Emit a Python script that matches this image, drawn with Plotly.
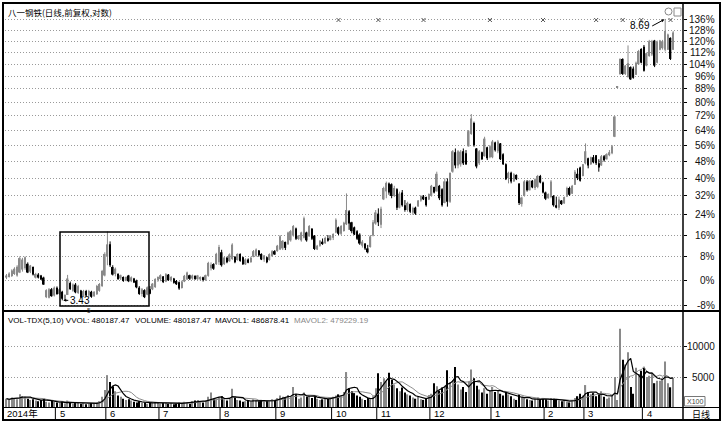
import numpy as np
import pandas as pd
import plotly.graph_objects as go

TITLE = "八一钢铁(日线,前复权,对数)"
MONTH_LABELS = ["2014年", "5", "6", "7", "8", "9", "10", "11", "12", "1", "2", "3", "4"]
MONTH_START = [0, 19, 38, 58, 81, 102, 123, 140, 160, 183, 203, 218, 240]
PCT_TICKS = [136, 128, 120, 112, 104, 96, 88, 80, 72, 64, 56, 48, 40, 32, 24, 16, 8, 0, -8]
VOL_TICKS = [5000, 10000]
INFO_IDX = [125, 140, 157, 182, 202, 222, 232, 239, 250]
LOW_LABEL = "3.43"
HIGH_LABEL = "8.69"
VOL_HEADER = ["VOL-TDX(5,10) VVOL: 480187.47", "VOLUME: 480187.47",
              "MAVOL1: 486878.41", "MAVOL2: 479229.19"]

# daily prices, % change against the log-axis base
open_pct = [
    0.8, 1.0, 1.3, 2.0, 1.5, 2.5, 3.5, 4.0, 5.5, 2.8,
    4.4, 0.8, 1.8, 1.5, 0.8, -5.5, -5.7, -3.0, -5.0, -2.5,
    -4.5, -3.8, -6.2, -4.8, -1.0, -3.5, -1.5, -4.2, -3.4, -5.3,
    -3.6, -5.0, -3.8, -5.2, -4.6, -3.5, -2.0, 1.5, 8.0, 12.5,
    4.4, 2.0, 2.0, 0.5, 1.0, -0.2, 1.5, -0.4, 0.5, -0.2,
    -2.5, -4.5, -3.3, -4.7, -3.0, -3.0, -2.3, 0.0, 0.3, 1.2,
    -0.5, 1.8, 0.0, 0.5, -0.3, -0.7, -2.6, -0.5, 0.2, 1.6,
    0.5, 1.4, 0.3, 0.2, 0.9, 0.0, 1.4, 4.0, 5.4, 5.4,
    6.0, 9.6, 5.4, 7.6, 6.4, 7.2, 8.0, 6.8, 9.0, 7.8,
    5.3, 7.0, 6.0, 8.0, 8.3, 10.2, 9.0, 7.0, 7.8, 6.8,
    8.2, 10.0, 10.0, 10.6, 11.0, 13.4, 12.5, 14.0, 15.8, 18.5,
    14.5, 14.0, 15.0, 17.0, 15.5, 18.4, 15.8, 10.6, 12.0, 13.5,
    12.9, 14.8, 14.1, 15.0, 17.0, 19.0, 16.5, 17.6, 20.2, 25.5,
    21.0, 19.0, 17.5, 16.2, 12.0, 12.8, 11.0, 11.5, 15.8, 20.5,
    24.5, 20.0, 30.5, 34.0, 37.5, 37.2, 32.0, 35.0, 27.0, 33.5,
    28.0, 26.0, 28.5, 25.0, 27.0, 27.5, 30.0, 31.8, 31.5, 30.5,
    32.0, 36.0, 34.0, 36.5, 35.0, 29.0, 38.5, 29.5, 43.0, 52.5,
    46.0, 46.5, 53.0, 52.0, 55.5, 62.0, 68.0, 54.4, 47.0, 52.5,
    50.5, 55.0, 50.0, 50.0, 57.5, 53.0, 57.0, 51.5, 46.5, 40.0,
    42.5, 38.5, 41.5, 37.5, 28.5, 32.0, 38.5, 34.5, 38.8, 35.5,
    36.0, 41.0, 38.0, 33.5, 31.0, 31.5, 32.0, 28.0, 27.0, 30.0,
    28.8, 31.7, 35.5, 33.0, 37.0, 42.0, 45.0, 41.0, 47.0, 49.5,
    46.5, 50.0, 51.0, 47.0, 46.0, 50.5, 49.0, 51.0, 52.0, 60.5,
    88.8, 97.5, 107.5, 97.5, 95.5, 102.0, 101.0, 97.0, 104.0, 114.5,
    116.0, 103.0, 109.5, 110.5, 120.5, 105.0, 114.0, 115.0, 114.0, 114.0, 122.5, 114.0,
]
high_pct = [
    2.0, 2.6, 3.6, 4.3, 5.0, 8.1, 7.6, 8.1, 6.0, 5.1,
    4.6, 2.4, 2.3, 1.7, 1.1, -3.0, -2.6, -2.6, -2.1, -2.1,
    -2.6, -3.5, -4.6, 1.7, -0.5, -1.1, -1.0, -1.6, -3.2, -3.2,
    -3.2, -3.2, -3.5, -3.6, -1.6, -1.0, 3.4, 9.6, 17.4, 13.6,
    5.0, 4.2, 2.3, 1.8, 1.2, 1.2, 1.7, 1.2, 0.7, 0.1,
    -2.0, -2.6, -3.0, -2.1, -2.0, -1.0, 0.6, 1.2, 1.9, 1.3,
    2.3, 2.0, 1.3, 0.7, 0.0, -0.5, -0.2, 1.7, 2.8, 1.8,
    1.8, 1.5, 1.7, 1.2, 1.1, 1.8, 6.2, 6.0, 5.7, 9.4,
    12.3, 10.5, 8.0, 8.0, 9.2, 12.9, 8.2, 9.2, 9.2, 8.0,
    7.4, 7.4, 8.0, 10.4, 11.0, 10.4, 9.2, 8.6, 8.0, 9.2,
    10.4, 10.4, 12.3, 16.0, 14.1, 13.5, 17.3, 18.0, 19.9, 18.9,
    16.0, 17.3, 23.3, 17.3, 19.9, 18.7, 16.0, 12.3, 14.1, 14.7,
    15.4, 16.0, 16.0, 16.7, 22.6, 19.3, 19.9, 21.2, 33.1, 26.0,
    21.2, 19.3, 17.9, 16.7, 14.1, 12.9, 12.3, 16.0, 21.9, 26.0,
    26.7, 27.4, 36.1, 38.4, 38.0, 37.6, 36.5, 35.4, 33.9, 34.6,
    30.2, 29.5, 28.8, 27.4, 27.4, 30.2, 32.4, 32.4, 31.7, 33.1,
    36.9, 36.1, 43.0, 36.9, 35.4, 39.9, 39.9, 42.5, 53.6, 54.4,
    53.6, 53.6, 54.4, 53.6, 64.1, 73.0, 68.7, 54.6, 53.6, 52.8,
    60.5, 55.3, 56.2, 58.8, 57.9, 58.8, 57.2, 52.0, 47.0, 43.0,
    43.0, 42.3, 41.7, 37.6, 31.7, 39.1, 39.1, 39.1, 39.1, 39.9,
    41.5, 41.5, 38.4, 33.9, 33.1, 39.1, 32.4, 31.7, 31.7, 30.2,
    31.7, 36.1, 36.1, 36.9, 43.8, 44.6, 45.4, 46.7, 57.0, 49.8,
    50.3, 51.1, 51.1, 49.0, 51.1, 51.1, 52.0, 53.6, 56.2, 71.9,
    89.0, 107.7, 108.0, 103.4, 117.0, 102.5, 102.4, 105.7, 113.8, 115.0,
    117.3, 112.0, 121.0, 121.0, 121.0, 120.5, 121.0, 121.0, 136.8, 125.6, 122.8, 127.5,
]
low_pct = [
    0.3, 0.8, 1.0, 1.7, 1.1, 2.3, 2.8, 3.4, 2.3, 2.3,
    1.5, 0.5, 0.5, 0.0, -1.6, -5.8, -5.9, -5.4, -5.3, -4.8,
    -4.8, -6.5, -6.4, -4.8, -3.2, -3.8, -4.3, -4.5, -5.8, -5.5,
    -5.4, -5.6, -5.7, -5.4, -4.8, -3.8, -2.3, 1.2, 5.0, 4.4,
    1.5, 1.2, 0.0, 0.0, -0.6, -0.4, -0.7, -0.7, -1.0, -2.7,
    -4.8, -5.3, -5.8, -4.9, -4.6, -3.3, -2.6, -0.6, -0.4, -1.0,
    -0.7, -0.3, -0.6, -1.2, -1.6, -3.2, -2.8, -0.7, 0.0, 0.0,
    0.1, 0.0, 0.0, -0.3, -0.5, -0.3, 1.1, 3.2, 3.4, 5.1,
    5.1, 4.5, 5.1, 5.7, 6.2, 6.8, 5.7, 6.6, 6.2, 5.1,
    5.1, 5.7, 5.9, 7.8, 8.0, 8.0, 6.8, 6.2, 5.7, 6.6,
    8.0, 8.6, 9.8, 10.4, 10.4, 10.4, 12.3, 13.5, 15.4, 14.1,
    14.1, 13.5, 14.7, 13.5, 15.4, 14.1, 10.4, 10.4, 11.6, 12.3,
    12.7, 13.5, 14.0, 14.1, 16.7, 16.0, 16.0, 17.3, 19.9, 18.0,
    16.7, 16.0, 14.1, 12.3, 11.3, 10.4, 9.2, 11.3, 15.5, 20.0,
    19.5, 18.7, 30.2, 31.0, 32.5, 31.0, 31.5, 26.0, 26.7, 27.4,
    25.3, 25.3, 24.7, 24.0, 24.0, 27.4, 29.5, 30.2, 27.4, 30.2,
    31.7, 33.1, 33.9, 30.2, 27.4, 28.8, 27.4, 29.0, 42.5, 44.6,
    44.6, 45.4, 46.2, 46.2, 55.3, 61.5, 55.3, 44.6, 46.2, 48.6,
    50.3, 48.6, 49.5, 49.5, 52.8, 52.0, 48.6, 46.2, 39.1, 37.6,
    37.6, 38.4, 39.1, 28.1, 27.4, 31.7, 33.9, 34.4, 35.4, 34.6,
    35.4, 37.6, 33.1, 30.2, 30.8, 31.0, 27.4, 26.7, 26.0, 28.1,
    28.6, 31.5, 32.0, 32.8, 36.9, 39.1, 38.4, 40.8, 46.5, 44.6,
    46.2, 47.0, 46.2, 43.0, 45.8, 47.8, 48.8, 50.5, 51.5, 60.3,
    88.6, 96.8, 96.8, 96.8, 95.0, 93.6, 94.4, 96.8, 103.4, 104.5,
    99.0, 102.5, 109.0, 109.5, 102.0, 104.5, 113.5, 114.0, 112.7, 113.8, 106.8, 113.8,
]
close_pct = [
    1.5, 2.2, 3.2, 3.8, 4.5, 7.5, 7.0, 7.8, 2.5, 4.9,
    1.8, 2.0, 0.8, 0.2, -1.5, -3.3, -3.0, -5.2, -2.5, -4.5,
    -3.0, -6.0, -4.8, 0.5, -3.0, -1.5, -4.0, -2.0, -5.5, -3.6,
    -5.0, -3.6, -5.4, -3.8, -2.0, -1.3, 3.0, 9.0, 12.5, 5.0,
    1.8, 3.8, 0.3, 1.6, -0.3, 1.0, -0.4, 0.9, -0.8, -2.4,
    -4.5, -3.0, -5.5, -2.4, -4.4, -1.2, 0.3, 1.0, 1.6, -0.7,
    1.9, 0.0, 1.0, -0.9, -1.4, -2.8, -0.5, 1.4, 2.5, 0.4,
    1.5, 0.3, 1.5, 1.0, 0.0, 1.6, 5.8, 5.2, 3.8, 9.0,
    11.5, 5.0, 7.7, 6.0, 8.8, 12.4, 6.0, 9.0, 6.5, 5.3,
    7.0, 5.9, 7.6, 10.0, 10.6, 8.5, 7.0, 8.4, 6.0, 8.9,
    10.0, 8.8, 12.0, 15.5, 13.8, 11.2, 17.0, 17.5, 19.5, 14.6,
    15.8, 17.0, 22.6, 14.0, 19.5, 14.6, 10.8, 12.0, 13.8, 12.6,
    14.9, 13.8, 15.6, 16.4, 22.0, 16.5, 19.5, 20.8, 26.0, 20.5,
    17.5, 16.2, 14.6, 12.8, 13.5, 11.0, 9.6, 15.5, 21.0, 25.0,
    21.0, 26.5, 35.5, 37.8, 33.5, 32.0, 35.5, 27.0, 33.0, 28.0,
    26.0, 29.0, 25.3, 26.8, 24.5, 30.0, 32.0, 30.5, 28.0, 32.8,
    36.5, 33.5, 42.0, 31.0, 28.0, 38.5, 29.5, 42.5, 53.0, 46.0,
    53.0, 52.8, 47.0, 46.5, 63.5, 70.5, 56.0, 45.5, 53.0, 49.0,
    59.5, 49.5, 55.5, 58.0, 53.5, 58.0, 49.0, 46.5, 39.5, 42.5,
    38.5, 41.8, 39.5, 29.0, 31.3, 38.5, 34.5, 38.8, 35.8, 39.5,
    41.0, 38.0, 33.5, 30.8, 32.8, 38.5, 28.0, 27.0, 30.5, 28.5,
    31.5, 35.5, 32.5, 36.5, 43.0, 40.0, 38.8, 46.5, 53.0, 46.0,
    50.0, 47.5, 47.0, 45.0, 50.5, 48.5, 51.5, 52.5, 55.5, 71.6,
    88.8, 107.7, 97.5, 103.0, 104.5, 94.0, 95.0, 105.0, 113.0, 105.0,
    99.5, 111.5, 120.0, 120.0, 103.0, 119.5, 120.5, 120.0, 127.5, 125.0, 107.5, 126.5,
]
# daily volume, x100
volume = [
    1500, 1300, 1700, 1600, 1400, 2200, 1900, 1800, 1500, 1300,
    1400, 1200, 1100, 1300, 1500, 1000, 900, 1200, 1000,
    900, 800, 1000, 700, 1200, 800, 700, 800, 900, 700, 800, 600, 700, 800, 700, 900, 1100, 1800, 2900,
    5300, 4200, 3500, 2700, 2000, 1800, 1500, 1300, 1400, 1200, 1000, 900, 1100, 800, 900, 700, 800, 1000, 900, 800,
    700, 800, 900, 700, 800, 600, 700, 900, 800, 1000, 900, 700, 1100, 1200, 1300, 1000, 900, 1200, 1800, 2500, 1500, 1300, 1700,
    1900, 1400, 1200, 1500, 3100, 1800, 1300, 1200, 1000, 1100, 1300, 1000, 1400, 1200, 1100, 1300, 1000, 1200, 1100, 1400, 1300,
    1600, 2000, 1800, 1700, 2100, 1900, 3400, 2200, 1500, 1700, 2500, 1800, 2000, 1600, 1900, 1500, 1300, 1400, 1600, 1500, 1700,
    1800, 2000, 2200, 1900, 2600, 5800, 3200, 2700, 2400, 2000, 1800, 1500, 1300, 1600, 1400, 1900, 3200,
    5600, 4200, 4800, 4300, 5700, 4500, 3800, 3200, 2700, 3300, 2500, 2200, 2000, 1700, 1500, 1800, 1400, 1300, 1600, 2100,
    2300, 4000, 3500, 2800, 3300, 3600, 6100, 4200, 4500, 6600, 3800, 3000, 3400, 2600, 4300, 6200, 4800, 3600, 3000, 2500, 3200, 2300, 2800,
    3400, 2600, 2900, 2300, 2000, 2700, 2200, 1900, 1500, 1300, 2200, 1800, 1600, 1400, 1300, 1200, 1500, 1700, 1300, 1500,
    1400, 1200, 1600, 1500, 1300, 1200, 1100, 1300, 1000, 900, 1100, 1600, 1900, 2300, 2000,
    3700, 2600, 2200, 2400, 1900, 2100, 2700, 1800, 1500, 1700, 2000, 5000, 1300, 12800, 7800, 7000, 9000, 3400, 2300, 6500, 5500, 6000,
    6500, 5000, 5200, 5600, 4000, 4379, 4400, 4700, 7500, 4000, 3342, 4802,
]

n = len(close_pct)
assert len(open_pct) == n and len(high_pct) == n and len(low_pct) == n and len(volume) == n

W, H = 724, 423
def px(x):
    return x / W
def py(y):
    return 1 - y / H

UP_COL = "#8a8a8a"
DN_COL = "#000000"

idx = np.arange(n)
o = 1 + np.array(open_pct) / 100
h = 1 + np.array(high_pct) / 100
l = 1 + np.array(low_pct) / 100
c = 1 + np.array(close_pct) / 100
up = c >= o
vol = np.array(volume, dtype=float)
ma5 = pd.Series(vol).rolling(5, min_periods=1).mean()
ma10 = pd.Series(vol).rolling(10, min_periods=1).mean()

fig = go.Figure()

# wicks
for mask, col in [(up, UP_COL), (~up, DN_COL)]:
    xs, ys = [], []
    for i in idx[mask]:
        xs += [int(i), int(i), None]
        ys += [l[i], h[i], None]
    fig.add_trace(go.Scatter(x=xs, y=ys, mode="lines", line=dict(color=col, width=1),
                             hoverinfo="skip", showlegend=False, xaxis="x", yaxis="y"))

# bodies
body_lo = np.minimum(o, c)
body_hi = np.maximum(o, c)
body_len = np.maximum(body_hi - body_lo, body_lo * 0.004)
fig.add_trace(go.Bar(x=idx, y=body_len, base=body_lo, width=0.6,
                     marker=dict(color=[UP_COL if u else DN_COL for u in up], line=dict(width=0)),
                     hoverinfo="skip", showlegend=False, xaxis="x", yaxis="y"))

# information markers
fig.add_trace(go.Scatter(x=INFO_IDX, y=[1 + PCT_TICKS[0] / 100] * len(INFO_IDX), mode="markers",
                         marker=dict(symbol="x-thin", size=4, line=dict(width=1, color="#555")),
                         hoverinfo="skip", showlegend=False, xaxis="x", yaxis="y"))

# volume
fig.add_trace(go.Bar(x=idx, y=vol, width=0.45,
                     marker=dict(color=[UP_COL if u else DN_COL for u in up], line=dict(width=0)),
                     hoverinfo="skip", showlegend=False, xaxis="x2", yaxis="y2"))
fig.add_trace(go.Scatter(x=idx, y=ma10, mode="lines", line=dict(color="#8c8c8c", width=1),
                         hoverinfo="skip", showlegend=False, xaxis="x2", yaxis="y2"))
fig.add_trace(go.Scatter(x=idx, y=ma5, mode="lines", line=dict(color="#000", width=1.2),
                         hoverinfo="skip", showlegend=False, xaxis="x2", yaxis="y2"))

XR = [-0.565, 254.7]
FONT = "Liberation Sans, Arial, Noto Sans CJK SC"
CJK = "Noto Sans CJK SC, Liberation Sans"

ann = []
ann.append(dict(xref="paper", yref="paper", x=px(6), y=py(12), text=TITLE, showarrow=False,
                xanchor="left", yanchor="middle", font=dict(family=CJK, size=8.5, color="#000")))
for p in PCT_TICKS:
    ann.append(dict(xref="paper", yref="y", x=px(717), y=float(np.log10(1 + p / 100)), text=f"{p}%",
                    showarrow=False, xanchor="right", yanchor="middle",
                    font=dict(family=FONT, size=10, color="#111")))
for v in VOL_TICKS:
    ann.append(dict(xref="paper", yref="y2", x=px(717), y=v, text=str(v), showarrow=False,
                    xanchor="right", yanchor="middle", font=dict(family=FONT, size=10, color="#111")))
hdr_x = [6, 133, 213, 292]
for k, (t, xx) in enumerate(zip(VOL_HEADER, hdr_x)):
    ann.append(dict(xref="paper", yref="paper", x=px(xx), y=py(320), text=t, showarrow=False,
                    xanchor="left", yanchor="middle",
                    font=dict(family=FONT, size=8, color="#888" if k == 3 else "#000")))
for k, (lab, m) in enumerate(zip(MONTH_LABELS, MONTH_START)):
    ann.append(dict(xref="x", yref="paper", x=(m - 0.4) if k == 0 else (m + 0.3), y=py(413.5),
                    text=lab, showarrow=False, xanchor="left", yanchor="middle",
                    font=dict(family=FONT, size=9.5, color="#000")))
ann.append(dict(xref="paper", yref="paper", x=px(701), y=py(414), text="日线", showarrow=False,
                xanchor="center", yanchor="middle", font=dict(family=CJK, size=9, color="#000")))
ann.append(dict(xref="paper", yref="paper", x=px(694.5), y=py(401.5), text="X100", showarrow=False,
                xanchor="center", yanchor="middle", font=dict(family=FONT, size=7, color="#444")))
imin = int(np.argmin(l))
imax = int(np.argmax(h))
ann.append(dict(xref="x", yref="y", x=imin, y=float(np.log10(l[imin])), text=LOW_LABEL,
                showarrow=True, ax=6, ay=0, xanchor="left", yanchor="middle",
                arrowhead=2, arrowsize=0.6, arrowwidth=1, arrowcolor="#000", standoff=1,
                font=dict(family=FONT, size=10, color="#000")))
ann.append(dict(xref="x", yref="y", x=imax, y=float(np.log10(h[imax])), text=HIGH_LABEL,
                showarrow=True, ax=-13, ay=7, xanchor="right", yanchor="middle",
                arrowhead=2, arrowsize=0.6, arrowwidth=1, arrowcolor="#000", standoff=1,
                font=dict(family=FONT, size=10, color="#000")))
ann.append(dict(xref="paper", yref="paper", x=px(89), y=py(310.5), text="5", showarrow=False,
                xanchor="center", yanchor="middle", font=dict(family=FONT, size=6.5, color="#333")))

shapes = [
    dict(type="rect", xref="paper", yref="paper", x0=px(3), y0=py(3), x1=px(720), y1=py(420),
         line=dict(color="#000", width=2)),
    dict(type="line", xref="paper", yref="paper", x0=px(683), x1=px(683), y0=py(3), y1=py(420),
         line=dict(color="#000", width=1.5)),
    dict(type="line", xref="paper", yref="paper", x0=px(3), x1=px(720), y0=py(311), y1=py(311),
         line=dict(color="#000", width=2)),
    dict(type="line", xref="paper", yref="paper", x0=px(3), x1=px(720), y0=py(407.5), y1=py(407.5),
         line=dict(color="#000", width=1)),
    dict(type="rect", xref="paper", yref="paper", x0=px(684.5), y0=py(396.5), x1=px(705), y1=py(406),
         line=dict(color="#777", width=1)),
    dict(type="rect", xref="paper", yref="paper", x0=px(60), y0=py(232), x1=px(149), y1=py(306),
         line=dict(color="#000", width=1.5)),
    dict(type="circle", xref="paper", yref="paper", x0=px(665), y0=py(8), x1=px(672), y1=py(15),
         line=dict(color="#888", width=1)),
    dict(type="rect", xref="paper", yref="paper", x0=px(674), y0=py(8), x1=px(681), y1=py(16),
         line=dict(color="#888", width=1)),
]
for m in MONTH_START[1:]:
    shapes.append(dict(type="line", xref="x", yref="paper", x0=m - 0.6, x1=m - 0.6,
                       y0=py(407.5), y1=py(419), line=dict(color="#000", width=1)))

grid = dict(showgrid=True, gridcolor="#9a9a9a", griddash="1px,2px", gridwidth=1)
fig.update_layout(
    width=W, height=H, margin=dict(l=0, r=0, t=0, b=0),
    paper_bgcolor="white", plot_bgcolor="white",
    barmode="overlay", hovermode=False, showlegend=False,
    xaxis=dict(domain=[px(5), px(683)], range=XR, showticklabels=False, showgrid=False,
               zeroline=False, ticks="", showline=False, anchor="y", rangeslider=dict(visible=False)),
    xaxis2=dict(domain=[px(5), px(683)], range=XR, matches="x", showticklabels=False, showgrid=False,
                zeroline=False, ticks="", showline=False, anchor="y2"),
    yaxis=dict(domain=[py(311), py(4)], type="log",
               range=[float(np.log10(0.9027)), float(np.log10(2.488))],
               side="right", anchor="x", tickvals=[1 + p / 100 for p in PCT_TICKS],
               showticklabels=False, ticks="outside", ticklen=3, tickcolor="#000",
               zeroline=False, showline=False, **grid),
    yaxis2=dict(domain=[py(408), py(312)], range=[0, 15485], side="right", anchor="x2",
                tickvals=VOL_TICKS, showticklabels=False, ticks="outside", ticklen=3, tickcolor="#000",
                zeroline=False, showline=False, **grid),
    annotations=ann, shapes=shapes,
)

fig.write_html("out.html", config={"displayModeBar": False},
               post_script="document.body.style.margin='0';document.body.style.overflow='hidden';")
